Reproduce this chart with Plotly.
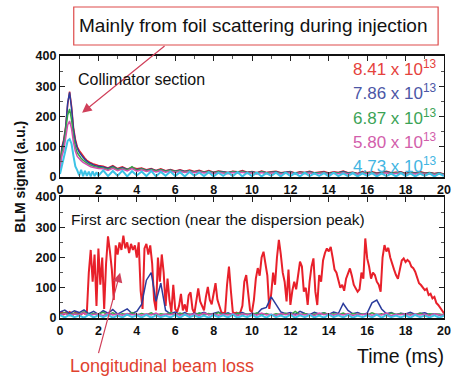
import numpy as np
import plotly.graph_objects as go

# ---------------- data ----------------
series_names = ["8.41 x 10<sup>13</sup>", "7.86 x 10<sup>13</sup>", "6.87 x 10<sup>13</sup>",
                "5.80 x 10<sup>13</sup>", "4.73 x 10<sup>13</sup>"]
line_colors = ["#e8202a", "#2b3c9c", "#35a548", "#d24fae", "#3cc3e6"]
text_colors = ["#e5423c", "#4b56a6", "#3ba356", "#d25eab", "#42b5e2"]

# time grids (ms)
t_top = np.round(np.concatenate([np.arange(0, 2.001, 0.1), np.arange(2.25, 20.001, 0.25)]), 2)
t_arc = np.round(np.arange(0, 20.001, 0.25), 2)
t_arc_red = np.round(np.arange(0, 20.001, 0.1), 2)

# ---- Collimator section (top) ----
col_841 = [40, 100, 125, 170, 240, 282, 235, 165, 125, 100, 88, 78, 70, 62, 55, 50, 47, 44, 42, 40, 38,
           36, 30, 38, 28, 34, 26, 32, 27, 30, 24, 28, 22, 27, 21, 25, 20, 24, 19, 23, 18,
           22, 17, 21, 16, 20, 18, 15, 19, 17, 21, 16, 18, 14, 20, 15, 17, 19, 14, 16, 18,
           13, 17, 15, 19, 14, 16, 18, 13, 17, 15, 20, 14, 16, 12, 18, 15, 17, 13, 16, 19,
           14, 15, 17, 12, 16, 14, 18, 13, 15, 12, 14, 10]
col_786 = [35, 95, 120, 165, 245, 280, 228, 158, 118, 95, 82, 72, 65, 58, 52, 47, 44, 40, 38, 36, 35,
           33, 28, 35, 26, 31, 25, 30, 24, 28, 22, 26, 21, 25, 20, 23, 19, 22, 18, 21, 17,
           20, 16, 19, 15, 18, 17, 14, 18, 16, 19, 15, 17, 13, 18, 14, 16, 17, 13, 15, 17,
           12, 16, 14, 17, 13, 15, 16, 12, 15, 14, 18, 13, 15, 11, 16, 14, 15, 12, 15, 17,
           13, 14, 16, 11, 15, 13, 16, 12, 14, 11, 13, 9]
col_687 = [30, 85, 105, 150, 205, 225, 190, 135, 100, 80, 70, 62, 56, 50, 46, 42, 39, 36, 34, 33, 31,
           30, 25, 33, 24, 29, 23, 34, 22, 27, 21, 25, 20, 24, 19, 22, 18, 21, 17, 20, 16,
           19, 15, 18, 14, 17, 16, 13, 17, 15, 18, 14, 16, 12, 17, 13, 15, 16, 12, 14, 16,
           11, 15, 13, 16, 12, 14, 15, 11, 14, 13, 16, 12, 14, 10, 15, 13, 14, 11, 14, 16,
           12, 13, 15, 10, 14, 12, 15, 11, 13, 10, 12, 8]
col_580 = [25, 70, 90, 130, 172, 185, 160, 115, 85, 68, 60, 54, 48, 44, 40, 37, 34, 32, 30, 29, 28,
           27, 22, 29, 21, 26, 20, 28, 19, 24, 18, 22, 17, 21, 16, 20, 15, 19, 15, 18, 14,
           17, 13, 16, 12, 15, 14, 11, 15, 13, 16, 12, 14, 10, 15, 11, 13, 14, 10, 12, 14,
           10, 13, 11, 14, 10, 12, 13, 9, 12, 11, 14, 10, 12, 9, 13, 11, 12, 9, 12, 14,
           10, 11, 13, 8, 12, 10, 13, 9, 11, 8, 10, 7]
col_473 = [10, 40, 70, 100, 120, 125, 110, 70, 35, 22, 5, 24, 3, 20, 4, 18, 2, 19, 3, 16, 4,
           22, 3, 20, 4, 21, 2, 19, 5, 18, 3, 20, 2, 17, 4, 18, 3, 16, 2, 17, 4,
           15, 3, 16, 2, 14, 4, 15, 3, 16, 2, 14, 3, 15, 2, 13, 4, 14, 2, 15, 3,
           13, 2, 14, 3, 12, 4, 13, 2, 14, 3, 12, 3, 13, 2, 12, 4, 13, 2, 12, 3,
           11, 2, 13, 3, 12, 2, 11, 4, 12, 2, 11, 3]

# ---- First arc section (bottom) ----
arc_841 = [15, 20, 12, 18, 14, 20, 16, 12, 18, 14,
           16, 12, 18, 14, 20, 150, 225, 120, 210, 40,
           230, 110, 200, 30, 180, 270, 220, 160, 60, 240,
           210, 250, 225, 272, 230, 250, 215, 245, 225, 240,
           200, 250, 90, 30, 230, 245, 210, 240, 180, 60,
           25, 200, 120, 210, 150, 40, 130, 60, 20, 110,
           30, 20, 40, 80, 25, 45, 20, 75, 85, 30,
           15, 60, 98, 55, 40, 25, 70, 103, 60, 45,
           80, 115, 60, 35, 20, 15, 20, 110, 170, 90,
           20, 15, 18, 14, 20, 40, 120, 142, 70, 25,
           20, 60, 130, 165, 140, 200, 219, 180, 140, 30,
           80, 150, 110, 200, 258, 210, 150, 120, 55, 160,
           43, 90, 120, 95, 140, 186, 170, 87, 100, 43,
           120, 170, 197, 87, 43, 142, 120, 190, 215, 230,
           220, 235, 200, 160, 150, 120, 100, 110, 90, 130,
           145, 164, 140, 110, 98, 87, 95, 150, 130, 263,
           197, 170, 130, 150, 142, 120, 110, 87, 200, 241,
           220, 232, 200, 175, 160, 142, 130, 160, 190, 197,
           185, 192, 186, 170, 165, 153, 130, 115, 109, 100,
           92, 97, 76, 80, 65, 70, 50, 43, 35, 25,
           15]
arc_786 = [20, 26, 15, 24, 18, 27, 14, 22, 12, 24, 16, 28, 13, 21, 30, 15, 22,
           45, 125, 150, 55, 115, 25, 14, 20,
           12, 18, 10, 16, 13, 19, 11, 15, 20, 12, 17, 10, 14, 18, 11, 16, 13, 30,
           35, 70, 45, 20,
           14, 18, 12, 22, 15, 11, 19, 13, 17, 12, 20, 15,
           48, 25,
           14, 18, 12, 16,
           50, 59, 30,
           14, 18, 11, 16, 13, 19, 12, 15, 17, 11, 14, 10, 12]
arc_687 = [12, 18, 9, 16, 11, 20, 10, 15, 13, 19, 11, 17, 9, 14, 12, 18, 10,
           15, 11, 17, 9, 14, 12, 18, 10, 16, 11, 13, 9, 17, 12, 15, 10, 18, 11,
           14, 9, 16, 12, 13, 10, 17, 11, 15, 9, 14, 12, 16, 10, 22, 11, 15, 9,
           13, 12, 17, 10, 14, 11, 16, 9, 15, 12, 13, 10, 17, 11, 14, 9, 16, 12,
           15, 10, 13, 11, 16, 9, 14, 12, 13, 10]
arc_580 = [10, 15, 8, 13, 11, 17, 9, 12, 14, 8, 16, 10, 13, 9, 15, 11, 12,
           9, 14, 10, 16, 8, 13, 11, 15, 9, 12, 10, 14, 8, 16, 11, 13, 9, 12,
           10, 15, 8, 14, 11, 13, 9, 16, 10, 12, 8, 15, 11, 14, 9, 13, 10, 12,
           8, 16, 11, 14, 9, 13, 10, 15, 8, 12, 11, 14, 9, 13, 10, 16, 8, 12,
           11, 14, 9, 13, 10, 12, 8, 14, 11, 10]
arc_473 = [9, 2, 10, 3, 8, 1, 11, 2, 9, 3, 10, 1, 8, 2, 11, 3, 9,
           2, 10, 1, 9, 3, 8, 2, 10, 1, 11, 3, 9, 2, 8, 1, 10, 3, 9,
           2, 11, 1, 8, 3, 10, 2, 9, 1, 11, 3, 8, 2, 10, 1, 9, 3, 10,
           2, 8, 1, 11, 3, 9, 2, 10, 1, 8, 3, 9, 2, 11, 1, 10, 3, 8,
           2, 9, 1, 10, 3, 8, 2, 9, 1, 8]

y_ticks = [0, 100, 200, 300, 400]
x_ticks = [0, 2, 4, 6, 8, 10, 12, 14, 16, 18, 20]

col_series = [col_841, col_786, col_687, col_580, col_473]
arc_series = [(t_arc_red, arc_841), (t_arc, arc_786), (t_arc, arc_687), (t_arc, arc_580), (t_arc, arc_473)]

# ---------------- figure ----------------
fig = go.Figure()
for i, (vals, col) in enumerate(zip(col_series, line_colors)):
    fig.add_trace(go.Scatter(x=t_top, y=vals, mode="lines", line=dict(color=col, width=2.0 if i == 4 else 1.5),
                             xaxis="x", yaxis="y", showlegend=False, hoverinfo="skip"))
for i, ((tt, vals), col) in enumerate(zip(arc_series, line_colors)):
    fig.add_trace(go.Scatter(x=tt, y=vals, mode="lines", line=dict(color=col, width=2.0 if i in (0, 4) else 1.5),
                             xaxis="x2", yaxis="y2", showlegend=False, hoverinfo="skip"))

FONT = "Liberation Sans, Arial, sans-serif"
L, R, T, B = 60, 5, 56, 62
W, H = 456, 380
PW, PH = W - L - R, H - T - B


def px(xp):
    return (xp - L) / PW


def py(yp):
    return (H - B - yp) / PH


axis_common = dict(range=[0, 20], tickvals=x_ticks, ticks="inside", ticklen=5, tickcolor="#222",
                   showline=True, linecolor="#111", linewidth=1.5, mirror="ticks", showgrid=False,
                   zeroline=False, ticklabeloverflow="allow",
                   tickfont=dict(family=FONT, size=12.5, color="#111", weight="bold"),
                   minor=dict(ticks="inside", ticklen=3, dtick=1, tickcolor="#555"))
yaxis_common = dict(range=[0, 400], tickvals=y_ticks, ticks="inside", ticklen=5, tickcolor="#222",
                    showline=True, linecolor="#111", linewidth=1.2, mirror="ticks", showgrid=False,
                    zeroline=False, ticklabeloverflow="allow",
                    tickfont=dict(family=FONT, size=12.5, color="#111", weight="bold"),
                    minor=dict(ticks="inside", ticklen=3, dtick=50, tickcolor="#555"))

top_lo = py(177)
bot_hi = py(197)

fig.update_layout(
    width=W, height=H, margin=dict(l=L, r=R, t=T, b=B),
    paper_bgcolor="white", plot_bgcolor="white",
    xaxis=dict(axis_common, domain=[0, 1], anchor="y"),
    yaxis=dict(yaxis_common, domain=[top_lo, 1], anchor="x"),
    xaxis2=dict(axis_common, domain=[0, 1], anchor="y2"),
    yaxis2=dict(yaxis_common, domain=[0, bot_hi], anchor="x2"),
    font=dict(family=FONT, color="#111"),
)

ann = []
ann.append(dict(xref="paper", yref="paper", x=px(257), y=py(26), text="Mainly from foil scattering during injection",
                showarrow=False, font=dict(size=19, color="#111", family=FONT), xanchor="center", yanchor="middle"))
ann.append(dict(xref="x", yref="y", x=1.15, y=212, ax=84, ay=-68, text="", showarrow=True,
                arrowhead=2, arrowsize=1.6, arrowwidth=1.2, arrowcolor="#d0405a"))
ann.append(dict(xref="paper", yref="paper", x=px(76), y=py(79), text="Collimator section", showarrow=False,
                font=dict(size=16, color="#111", family=FONT), xanchor="left", yanchor="middle"))
for i, (name, col) in enumerate(zip(series_names, text_colors)):
    ann.append(dict(xref="paper", yref="paper", x=px(446), y=py(68 + 24.3 * i), text=name, showarrow=False,
                    font=dict(size=17, color=col, family=FONT), xanchor="right", yanchor="middle"))
ann.append(dict(xref="paper", yref="paper", x=px(69), y=py(219),
                text="First arc section (near the dispersion peak)", showarrow=False,
                font=dict(size=15.5, color="#111", family=FONT), xanchor="left", yanchor="middle"))
ann.append(dict(xref="x2", yref="y2", x=3.13, y=150, ax=-22, ay=82, text="", showarrow=True,
                arrowhead=2, arrowsize=1.6, arrowwidth=1.2, arrowcolor="#d0405a"))
ann.append(dict(xref="paper", yref="paper", x=px(68), y=py(366), text="Longitudinal beam loss", showarrow=False,
                font=dict(size=18, color="#e0422f", family=FONT), xanchor="left", yanchor="middle"))
ann.append(dict(xref="paper", yref="paper", x=px(453), y=py(356), text="Time (ms)", showarrow=False,
                font=dict(size=19.5, color="#111", family=FONT), xanchor="right", yanchor="middle"))
ann.append(dict(xref="paper", yref="paper", x=px(19), y=py(177), text="<b>BLM signal (a.u.)</b>", showarrow=False,
                textangle=-90, font=dict(size=14, color="#111", family=FONT), xanchor="center", yanchor="middle"))
fig.update_layout(annotations=ann)

fig.add_shape(type="rect", xref="paper", yref="paper", x0=px(74), x1=px(445), y0=py(45), y1=py(7),
              line=dict(color="#dd4a4a", width=1.2), fillcolor="rgba(0,0,0,0)")

fig.write_html("out.html", config={"displayModeBar": False},
               post_script="document.body.style.margin='0';document.body.style.padding='0';")
